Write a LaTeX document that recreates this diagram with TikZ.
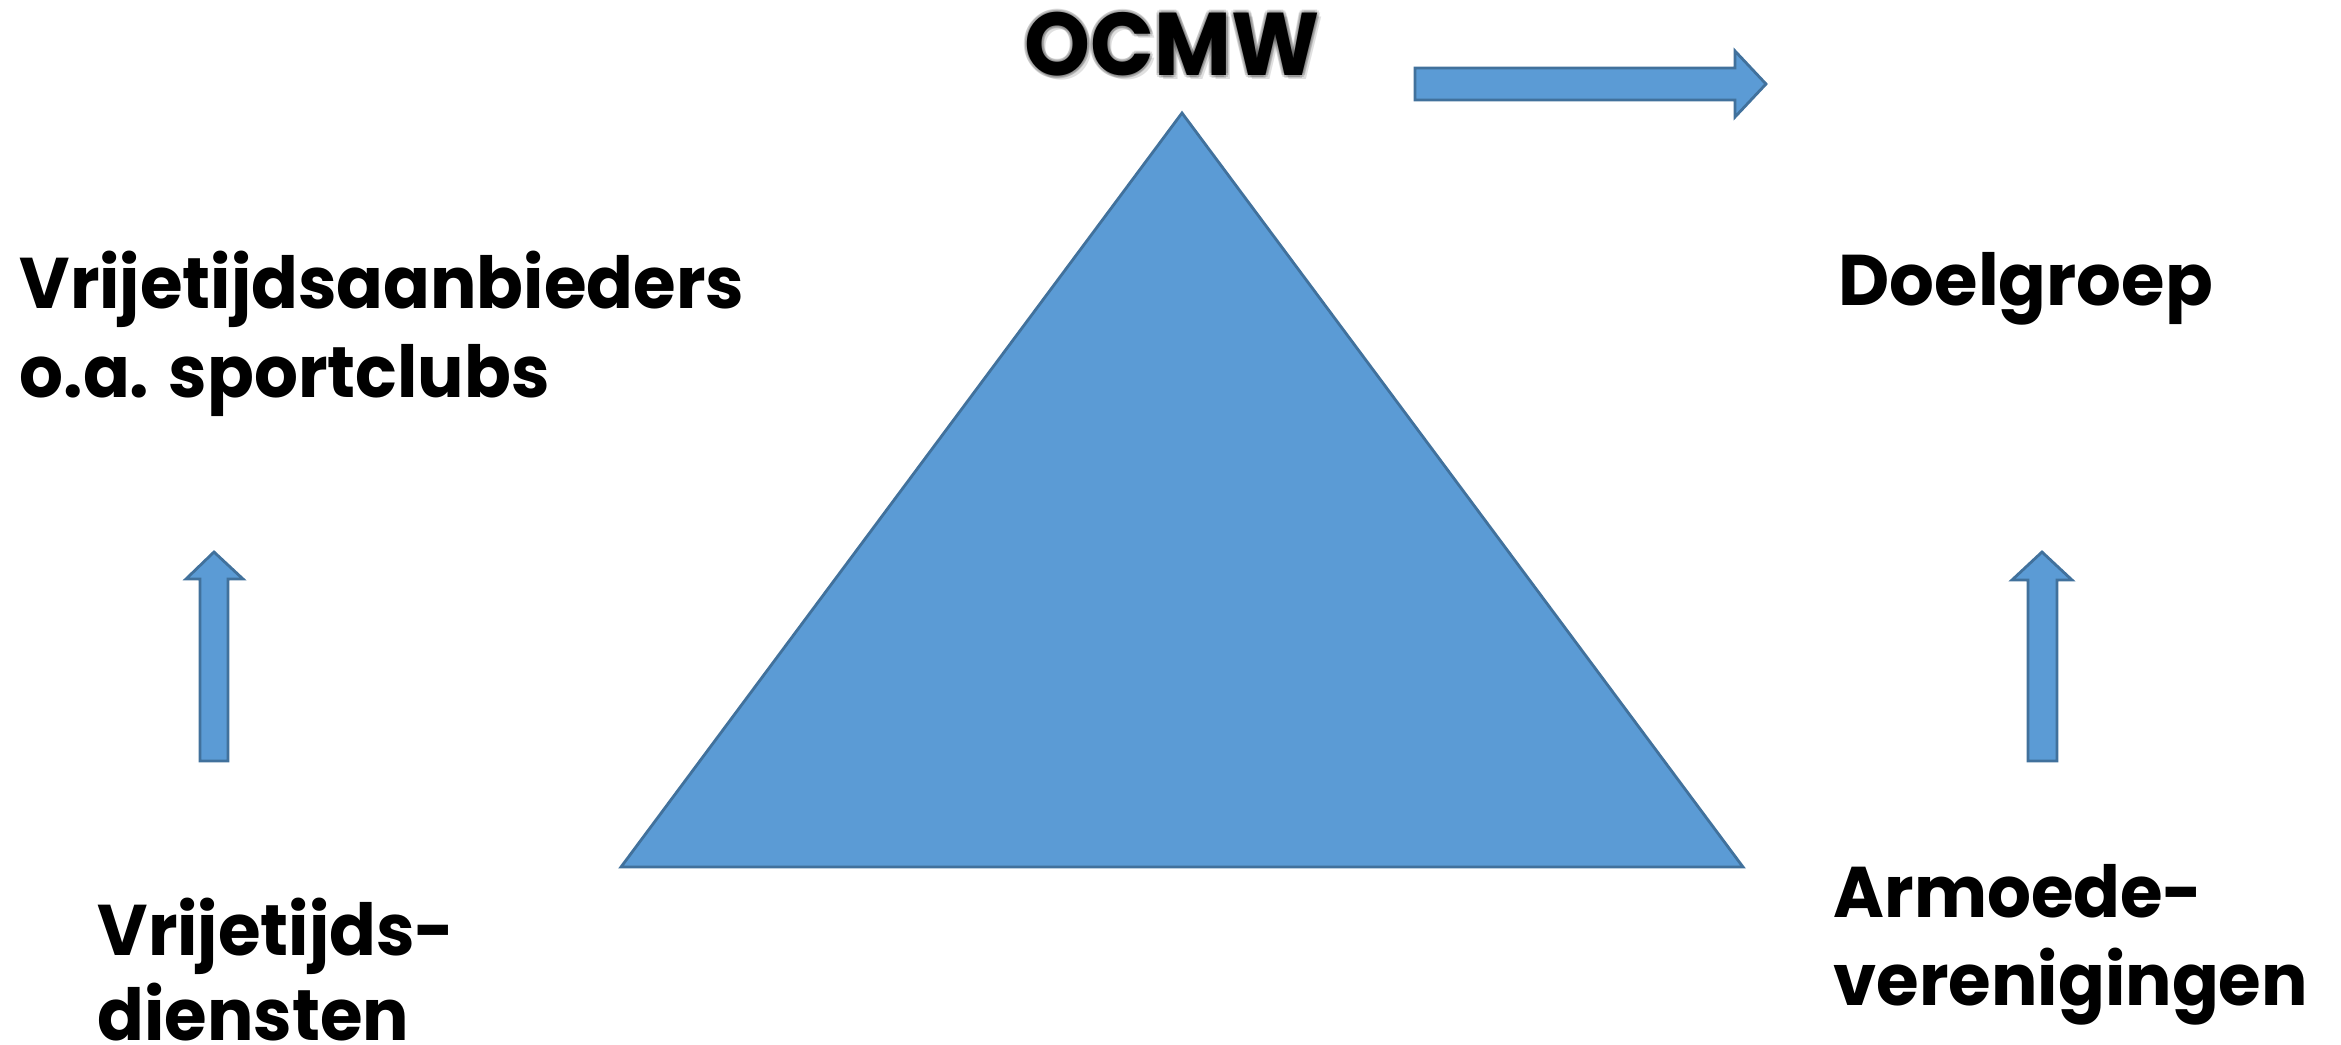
\documentclass[tikz,border=0pt]{standalone}
\usepackage{fontspec}
\usepackage{graphicx}
\newfontfamily\popfont{Poppins}
\definecolor{shapeblue}{RGB}{91,155,213}
\definecolor{shapeedge}{RGB}{65,113,156}
\newcommand\lblfont{\popfont\bfseries\fontsize{20.4pt}{24pt}\selectfont}
\newcommand\ttlfont{\popfont\bfseries\fontsize{25.3pt}{30pt}\selectfont}
\newlength\natw
\begin{document}
\settowidth\natw{\lblfont Vrijetijdsaanbieders}%
\pgfmathsetmacro\xsc{205.99/\natw}%
\settowidth\natw{\ttlfont OCMW}%
\pgfmathsetmacro\tsc{83.93/\natw}%
\settowidth\natw{\lblfont Doelgroep}%
\pgfmathsetmacro\dsc{106.4/\natw}%
\begin{tikzpicture}[x=0.01cm,y=-0.01cm,
  blueshape/.style={fill=shapeblue,draw=shapeedge,line width=0.8pt,line join=miter},
  lbl/.style={anchor=base west,inner sep=0pt,font=\lblfont},
  ttl/.style={anchor=base,inner sep=0pt,font=\ttlfont}]
\useasboundingbox (0,0) rectangle (2341,1045);
% triangle
\draw[blueshape] (1182,113) -- (1743,867) -- (621,867) -- cycle;
% right arrow
\draw[blueshape] (1415,68) -- (1735,68) -- (1735,51) -- (1766,84) -- (1735,117) -- (1735,100) -- (1415,100) -- cycle;
% up arrows
\draw[blueshape] (200,761) -- (200,579) -- (186,579) -- (214,552) -- (243,579) -- (228,579) -- (228,761) -- cycle;
\draw[blueshape] (2028,761) -- (2028,580) -- (2012,580) -- (2042,552) -- (2072,580) -- (2057,580) -- (2057,761) -- cycle;
% title with soft glow
\foreach \dx/\dy in {-3/0,3/0,0/-3,0/3,-2/-2,2/2,-2/2,2/-2,4/4}
  \node[ttl,text=black,opacity=0.12] at (1172+\dx,75+\dy) {\scalebox{\tsc}[1]{OCMW}};
\node[ttl] (ocmw) at (1172,75) {\scalebox{\tsc}[1]{OCMW}};
% labels
\node[lbl] (va1) at (19,308) {\scalebox{\xsc}[1]{Vrijetijdsaanbieders}};
\node[lbl] (va2) at (19,397) {\scalebox{\xsc}[1]{o.a. sportclubs}};
\node[lbl] (doel) at (1838,305) {\scalebox{\dsc}[1]{Doelgroep}};
\node[lbl] (arm1) at (1833,917) {\scalebox{\xsc}[1]{Armoede-}};
\node[lbl] (arm2) at (1833,1005) {\scalebox{\xsc}[1]{verenigingen}};
\node[lbl] (vd1) at (97,955) {\scalebox{\xsc}[1]{Vrijetijds-}};
\node[lbl] (vd2) at (97,1040) {\scalebox{\xsc}[1]{diensten}};
\end{tikzpicture}
\end{document}
